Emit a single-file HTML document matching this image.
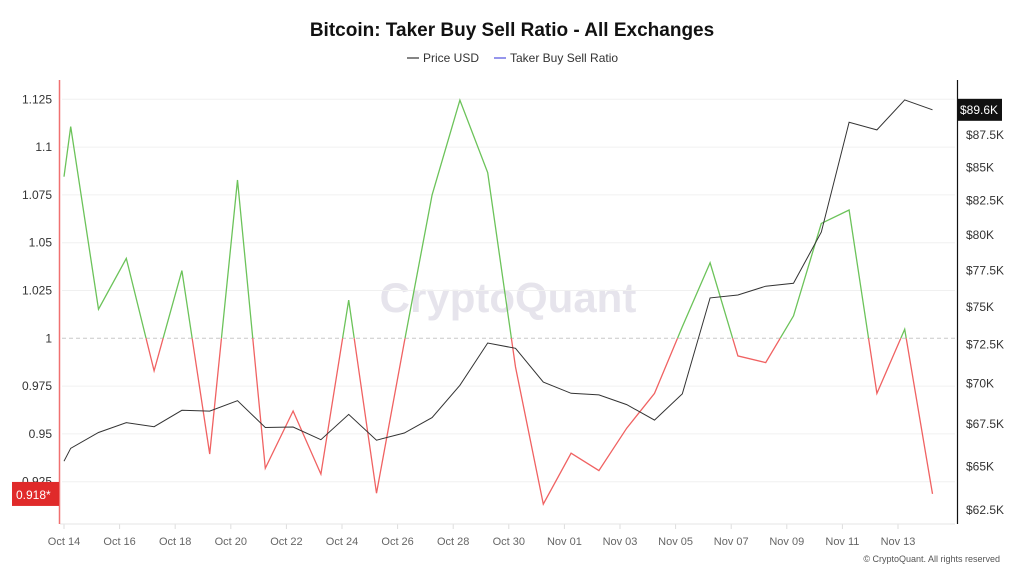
<!DOCTYPE html>
<html><head><meta charset="utf-8">
<style>
body{margin:0;background:#fff;font-family:"Liberation Sans",sans-serif;}
svg text{font-family:"Liberation Sans",sans-serif;}
</style></head>
<body>
<svg id="chart" width="1024" height="576" viewBox="0 0 1024 576" xmlns="http://www.w3.org/2000/svg">
<rect width="1024" height="576" fill="#fff"/>
<text x="512" y="36" text-anchor="middle" font-size="19" font-weight="bold" fill="#111">Bitcoin: Taker Buy Sell Ratio - All Exchanges</text>
<g>
<g><line x1="407" y1="58" x2="419" y2="58" stroke="#333" stroke-width="1.2"/><text x="423" y="62" font-size="12" fill="#333">Price USD</text></g>
<g><line x1="494" y1="58" x2="506" y2="58" stroke="#5050e0" stroke-width="1.2"/><text x="510" y="62" font-size="12" fill="#333">Taker Buy Sell Ratio</text></g>
</g>
<text x="508" y="312" text-anchor="middle" font-size="42" fill="#e6e4ec" font-weight="bold">CryptoQuant</text>
<g id="grid"></g>
<g id="axes"></g>
<g id="series"></g>
<g id="badges"></g>
<text x="1000" y="562" text-anchor="end" font-size="9" fill="#555">© CryptoQuant. All rights reserved</text>
</svg>
<script>
const ratio = [1.0845,1.1107,1.0152,1.0418,0.983,1.0354,0.9395,1.0828,0.932,0.962,0.929,1.020,0.919,0.998,1.075,1.1246,1.0866,0.985,0.9133,0.9399,0.9308,0.953,0.9712,1.006,1.0395,0.9908,0.9873,1.0117,1.0601,1.0671,0.9712,1.0047,0.9186];
const price = [65.3,66.06,67.0,67.6,67.35,68.35,68.3,68.94,67.3,67.33,66.57,68.1,66.54,66.97,67.9,69.9,72.6,72.26,70.1,69.4,69.3,68.7,67.75,69.36,75.6,75.8,76.4,76.6,80.2,88.5,87.9,90.3,89.5];
const leftTicks = [0.925,0.95,0.975,1,1.025,1.05,1.075,1.1,1.125];
const leftTickLabels = ["0.925","0.95","0.975","1","1.025","1.05","1.075","1.1","1.125"];
const rightTicks = [62.5,65,67.5,70,72.5,75,77.5,80,82.5,85,87.5];
const xLabels = ["Oct 14","Oct 16","Oct 18","Oct 20","Oct 22","Oct 24","Oct 26","Oct 28","Oct 30","Nov 01","Nov 03","Nov 05","Nov 07","Nov 09","Nov 11","Nov 13"];
const lastPriceLabel = "$89.6K";
const lastRatioLabel = "0.918*";

const NS="http://www.w3.org/2000/svg";
const X0=64, DAY=27.8;
const xDay = d => X0 + d*DAY;
const pointDay = i => i===0 ? 0 : (i-1)+0.24;
const yL = v => 338.3 - (v-1)*1912;
const yR = p => 510 - (Math.log(p)-Math.log(62.5))*1114.5;
function mk(tag, attrs, parent){const e=document.createElementNS(NS,tag);for(const k in attrs)e.setAttribute(k,attrs[k]);parent.appendChild(e);return e;}
const grid=document.getElementById('grid'), axes=document.getElementById('axes'), series=document.getElementById('series'), badges=document.getElementById('badges');

leftTicks.forEach((t,i)=>{
  const y=yL(t);
  const g=mk('line',{x1:62,x2:955,y1:y,y2:y,stroke:t===1?'#c8c8c8':'#f0f0f0','stroke-width':1,'stroke-dasharray':t===1?'4,3':''},grid);
  
  
  const tx=mk('text',{x:52,y:y+4,'text-anchor':'end','font-size':12,fill:'#333'},axes);
  tx.textContent=leftTickLabels[i];
  
  
});
rightTicks.forEach(t=>{
  const tx=mk('text',{x:966,y:yR(t)+4,'font-size':12,fill:'#333'},axes);
  tx.textContent='$'+t+'K';
  
  
});
xLabels.forEach((l,i)=>{
  const x=xDay(i*2);
  const tk=mk('line',{x1:x,x2:x,y1:524,y2:529,stroke:'#ddd'},axes);
  
  
  const tx=mk('text',{x:x,y:545,'text-anchor':'middle','font-size':11,fill:'#666'},axes);
  tx.textContent=l;
  
  
});
const xa=mk('line',{x1:60,x2:955,y1:524,y2:524,stroke:'#e6e6e6'},axes);


const la=mk('line',{x1:59.5,x2:59.5,y1:80,y2:524,stroke:'#f07070','stroke-width':1.5},axes);


const ra=mk('line',{x1:957.5,x2:957.5,y1:80,y2:524,stroke:'#111','stroke-width':1.2},axes);



const defs=mk('defs',{},series);
const y1=yL(1);
const cA=mk('clipPath',{id:'above'},defs); mk('rect',{x:0,y:0,width:1024,height:y1},cA);
const cB=mk('clipPath',{id:'below'},defs); mk('rect',{x:0,y:y1,width:1024,height:576-y1},cB);
const rPts=ratio.map((v,i)=>xDay(pointDay(i)).toFixed(1)+','+yL(v).toFixed(1)).join(' ');
const rg=mk('polyline',{points:rPts,fill:'none',stroke:'#6cc35a','stroke-width':1.3,'clip-path':'url(#above)'},series);


const rr=mk('polyline',{points:rPts,fill:'none',stroke:'#f06262','stroke-width':1.3,'clip-path':'url(#below)'},series);


const pPts=price.map((p,i)=>xDay(pointDay(i)).toFixed(1)+','+yR(p).toFixed(1)).join(' ');
const pl=mk('polyline',{points:pPts,fill:'none',stroke:'#333','stroke-width':1},series);



const ly=yR(price[price.length-1]);
const pb=mk('rect',{x:958,y:ly-11,width:44,height:22,fill:'#111'},badges);


const pt=mk('text',{x:960,y:ly+4,'font-size':12,fill:'#fff'},badges);
pt.textContent=lastPriceLabel;


const ry=yL(ratio[ratio.length-1]);
const rb=mk('rect',{x:12,y:ry-12,width:47,height:24,fill:'#e02a2a'},badges);


const rt=mk('text',{x:16,y:ry+5,'font-size':12,fill:'#fff'},badges);
rt.textContent=lastRatioLabel;


</script>
</body></html>
